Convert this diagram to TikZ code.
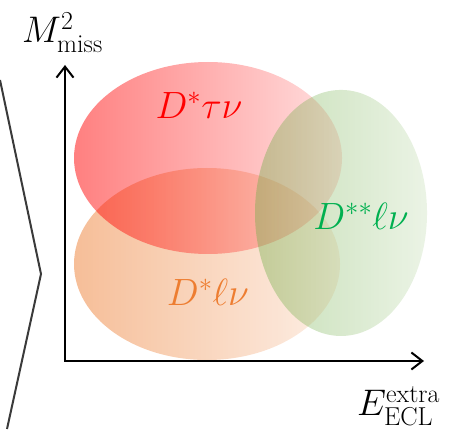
\RequirePackage{fix-cm}
\documentclass[tikz,border=0pt]{standalone}
\usepackage{amsmath}
\usepackage{xcolor}
\usetikzlibrary{arrows.meta,fadings}
\definecolor{dtau}{HTML}{FF0000}
\definecolor{dlnu}{HTML}{ED7D31}
\definecolor{dsslnu}{HTML}{00B050}
\definecolor{dsslfill}{HTML}{70AD47}
\definecolor{chev}{HTML}{3A3A3A}
\tikzfading[name=fade blob, left color=transparent!50, right color=transparent!88]
\tikzfading[name=fade green, left color=transparent!60, right color=transparent!86]

\begin{document}
\begin{tikzpicture}[x=1pt,y=1pt,every node/.style={font=\fontsize{38}{42}\selectfont}]
    \tikzstyle{blob}=[path fading=fade blob];
    \tikzstyle{lab}=[inner sep=0pt];
    \tikzstyle{axlab}=[inner sep=0pt,anchor=base west,font=\fontsize{37}{40}\selectfont];
    \tikzstyle{axis}=[line width=2pt,{Straight Barb[length=11pt,width=17pt]}-{Straight Barb[length=11pt,width=17pt]}];
    \useasboundingbox (0,0) rectangle (453,429);
    % chevron on the left
    \coordinate (c1) at (0,349);
    \coordinate (c2) at (41,155);
    \coordinate (c3) at (7,0);
    \draw[chev,line width=2pt] (c1) -- (c2) -- (c3);
    % the three regions
    \fill[dlnu,blob] (207,165) ellipse [x radius=133pt,y radius=96pt];
    \fill[dtau,blob] (208,271) ellipse [x radius=134pt,y radius=96pt];
    \fill[dsslfill,path fading=fade green] (341,216) ellipse [x radius=86pt,y radius=123pt];
    \node[lab,text=dtau]   (tau)   at (199,324) {$D^*\tau\nu$};
    \node[lab,text=dlnu]   (lnu)   at (208,137) {$D^*\ell\nu$};
    \node[lab,text=dsslnu] (sslnu) at (361,213) {$D^{**}\ell\nu$};
    % axes
    \coordinate (ytip) at (65,364);
    \coordinate (xtip) at (424,68);
    \draw[axis] (ytip) |- (xtip);
    \node[axlab] (mlab) at (22,386) {$M^2_{\text{miss}}$};
    \node[axlab] (elab) at (357,13) {$E^{\text{extra}}_{\text{ECL}}$};
\end{tikzpicture}
\end{document}
